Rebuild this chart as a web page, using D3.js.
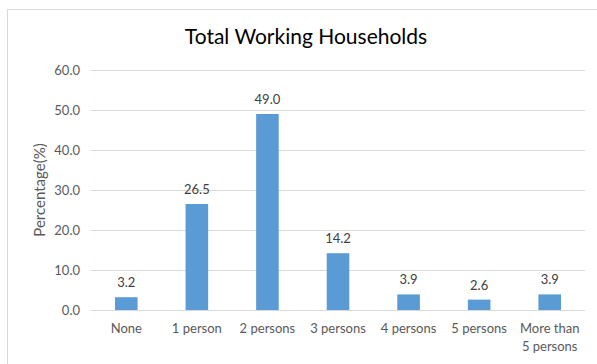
<!DOCTYPE html>
<html>
<head>
<meta charset="utf-8">
<script src="https://cdn.jsdelivr.net/npm/d3@7"></script>
<style>
	body { margin: 0; background: #fff; }
	svg text { font-family: Lato, "Open Sans", sans-serif; }
</style>
</head>
<body>
<svg id="chart"></svg>
<script>
let categories = ["None", "1 person", "2 persons", "3 persons", "4 persons", "5 persons", "More than|5 persons"];
let values = [3.2, 26.5, 49.0, 14.2, 3.9, 2.6, 3.9];
let yTicks = [0, 10, 20, 30, 40, 50, 60];
let title = "Total Working Households";
let yTitle = "Percentage(%)";

let W = 597, H = 364;
let margin = {left: 91, right: 12, top: 70, bottom: 54};

let svg = d3.select("#chart")
	.attr("width", W)
	.attr("height", H);

// chart frame
svg.append("rect")
	.attr("x", 7.5).attr("y", 9.5)
	.attr("width", W).attr("height", H)
	.attr("fill", "#fff")
	.attr("stroke", "#d9d9d9");

let x = d3.scaleBand()
	.domain(categories)
	.range([margin.left, W - margin.right])
	.paddingInner(0.68)
	.paddingOuter(0.34);

let y = d3.scaleLinear()
	.domain([0, 60])
	.range([H - margin.bottom, margin.top]);

// gridlines
svg.append("g")
	.selectAll("line")
	.data(yTicks)
	.enter().append("line")
	.attr("x1", margin.left)
	.attr("x2", W - margin.right)
	.attr("y1", (d) => Math.round(y(d)) + 0.5)
	.attr("y2", (d) => Math.round(y(d)) + 0.5)
	.attr("stroke", "#d9d9d9");

// y tick labels
svg.append("g")
	.selectAll("text")
	.data(yTicks)
	.enter().append("text")
	.attr("x", 80)
	.attr("y", (d) => y(d) + 4.5)
	.attr("text-anchor", "end")
	.attr("font-size", 13)
	.attr("fill", "#595959")
	.text((d) => d.toFixed(1));

// bars
svg.append("g")
	.selectAll("rect")
	.data(values)
	.enter().append("rect")
	.attr("x", (d, i) => x(categories[i]))
	.attr("y", (d) => y(d))
	.attr("width", x.bandwidth())
	.attr("height", (d) => y(0) - y(d))
	.attr("fill", "#5b9bd5");

// value labels
svg.append("g")
	.selectAll("text")
	.data(values)
	.enter().append("text")
	.attr("x", (d, i) => x(categories[i]) + x.bandwidth() / 2)
	.attr("y", (d) => y(d) - 10)
	.attr("text-anchor", "middle")
	.attr("font-size", 13)
	.attr("fill", "#404040")
	.text((d) => d.toFixed(1));

// category labels
let catLabels = svg.append("g")
	.selectAll("text")
	.data(categories)
	.enter().append("text")
	.attr("x", (d) => x(d) + x.bandwidth() / 2)
	.attr("y", y(0) + 23)
	.attr("text-anchor", "middle")
	.attr("font-size", 13)
	.attr("fill", "#595959");
catLabels.each(function(d) {
	let parts = d.split("|");
	let t = d3.select(this);
	parts.forEach((p, i) => {
		t.append("tspan")
			.attr("x", x(d) + x.bandwidth() / 2)
			.attr("dy", i == 0 ? 0 : 18)
			.text(p);
	});
});

// title
svg.append("text")
	.attr("x", 306)
	.attr("y", 44)
	.attr("text-anchor", "middle")
	.attr("font-size", 21)
	.attr("fill", "#000")
	.text(title);

// y axis title
svg.append("text")
	.attr("transform", "translate(45," + y(30) + ") rotate(-90)")
	.attr("text-anchor", "middle")
	.attr("font-size", 15)
	.attr("fill", "#595959")
	.text(yTitle);
</script>
</body>
</html>
